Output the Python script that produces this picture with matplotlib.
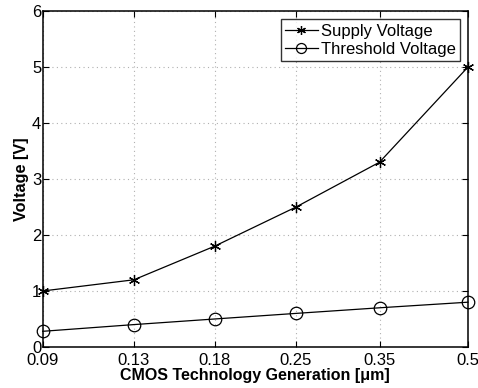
import matplotlib
matplotlib.use("Agg")
import matplotlib.pyplot as plt
from matplotlib.ticker import FixedLocator, FixedFormatter, NullLocator

plt.rcParams['font.family'] = ['Liberation Sans', 'DejaVu Sans']

nodes = [0.09, 0.13, 0.18, 0.25, 0.35, 0.5]
node_labels = ["0.09", "0.13", "0.18", "0.25", "0.35", "0.5"]
supply_v = [1.0, 1.2, 1.8, 2.5, 3.3, 5.0]
threshold_v = [0.28, 0.4, 0.5, 0.6, 0.7, 0.8]

fig = plt.figure(figsize=(4.78, 3.88), dpi=100)
ax = fig.add_axes([0.0893, 0.1057, 0.8897, 0.8659])

ax.plot(nodes, supply_v, color='black', lw=0.9, marker=(6, 2, 0),
        markersize=8, markeredgewidth=0.9, label='Supply Voltage', clip_on=False)
ax.plot(nodes, threshold_v, color='black', lw=0.9, marker='o', markersize=9,
        markerfacecolor='none', markeredgewidth=0.9, label='Threshold Voltage',
        clip_on=False)

ax.set_xscale('log')
ax.set_xlim(0.09, 0.5)
ax.set_ylim(0, 6)
ax.xaxis.set_major_locator(FixedLocator(nodes))
ax.xaxis.set_major_formatter(FixedFormatter(node_labels))
ax.xaxis.set_minor_locator(NullLocator())
ax.set_yticks(range(0, 7))

ax.grid(True, which='major', linestyle=(0, (1, 3)), color='#b0b0b0', lw=0.8)
ax.tick_params(direction='in', length=4, width=0.8, labelsize=12,
               top=True, right=True)
ax.tick_params(axis='x', pad=4)
ax.tick_params(axis='y', pad=1)
for s in ax.spines.values():
    s.set_linewidth(1.1)

ax.set_xlabel('CMOS Technology Generation [\u03bcm]', fontsize=11.5,
              fontweight='bold', labelpad=0)
ax.set_ylabel('Voltage [V]', fontsize=11.7, fontweight='bold', labelpad=2)

leg = ax.legend(loc='upper right', bbox_to_anchor=(0.99, 0.985), fontsize=12,
                frameon=True, fancybox=False, edgecolor='black',
                borderpad=0.25, labelspacing=0.2, handlelength=2.0,
                handletextpad=0.2, borderaxespad=0.2, markerscale=0.8)
leg.get_frame().set_linewidth(1.0)

fig.savefig('out.png', dpi=100)
